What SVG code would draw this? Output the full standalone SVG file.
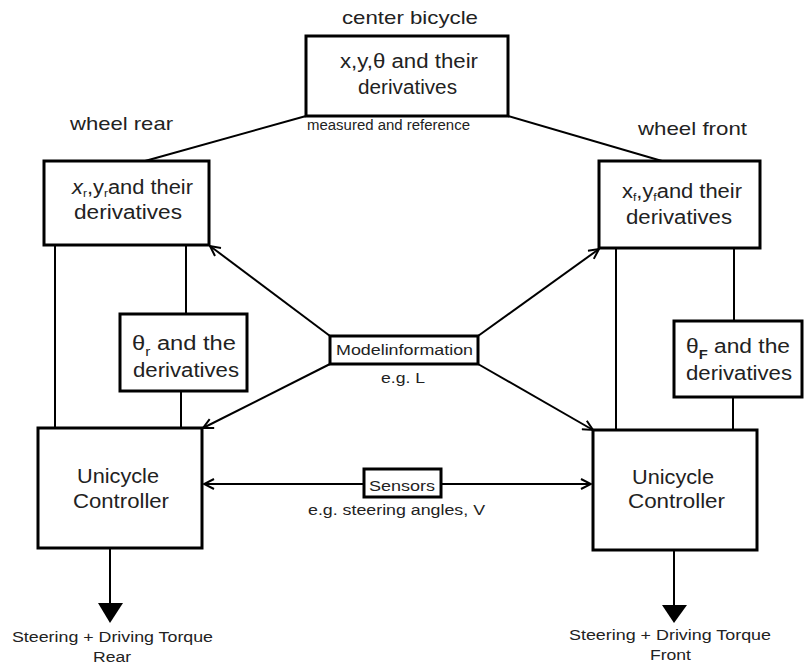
<svg xmlns="http://www.w3.org/2000/svg" width="804" height="666" viewBox="0 0 804 666">
<style>
.box{fill:#fff;stroke:#000;stroke-width:3}
.ln{fill:none;stroke:#000;stroke-width:2}
text{font-family:"Liberation Sans",Arial,sans-serif;fill:#222}
.n{font-size:20px}
.l{font-size:19px}
.s{font-size:14px}
.sub{font-size:13px}
.sb{font-size:11px}
</style>
<defs>
<marker id="oa" viewBox="0 0 12 12" refX="11" refY="6" markerWidth="12" markerHeight="12" markerUnits="userSpaceOnUse" orient="auto-start-reverse">
<path d="M1,1 L11,6 L1,11" fill="none" stroke="#000" stroke-width="2"/>
</marker>
</defs>
<rect width="804" height="666" fill="#fff"/>
<g id="connectors">
<line class="ln" x1="306" y1="116" x2="145" y2="161"/>
<line class="ln" x1="508" y1="116" x2="662" y2="161"/>
<line class="ln" x1="55" y1="245" x2="55" y2="428"/>
<line class="ln" x1="186" y1="245" x2="186" y2="314"/>
<line class="ln" x1="181" y1="391" x2="181" y2="428"/>
<line class="ln" x1="616" y1="248" x2="616" y2="430"/>
<line class="ln" x1="734" y1="248" x2="734" y2="321"/>
<line class="ln" x1="733" y1="397" x2="733" y2="430"/>
<line class="ln" x1="330" y1="336" x2="210" y2="246" marker-end="url(#oa)"/>
<line class="ln" x1="478" y1="336" x2="599" y2="249" marker-end="url(#oa)"/>
<line class="ln" x1="330" y1="364" x2="203" y2="428" marker-end="url(#oa)"/>
<line class="ln" x1="478" y1="364" x2="593" y2="430" marker-end="url(#oa)"/>
<line class="ln" x1="204" y1="484" x2="591" y2="484" marker-start="url(#oa)" marker-end="url(#oa)"/>
<line class="ln" x1="110" y1="548" x2="110" y2="606"/>
<polygon points="98,603 123,603 110,623" fill="#000"/>
<line class="ln" x1="674" y1="550" x2="674" y2="607"/>
<polygon points="662,605 687,605 674,623" fill="#000"/>
</g>
<g id="center">
<text class="l" x="342" y="24" textLength="136" lengthAdjust="spacingAndGlyphs">center bicycle</text>
<rect class="box" x="306" y="36" width="202" height="80"/>
<text class="n" x="340" y="68" textLength="138" lengthAdjust="spacingAndGlyphs">x,y,θ and their</text>
<text class="n" x="358" y="94" textLength="99" lengthAdjust="spacingAndGlyphs">derivatives</text>
<text class="s" x="307" y="130" textLength="163" lengthAdjust="spacingAndGlyphs">measured and reference</text>
</g>
<g id="rear">
<text class="l" x="70" y="130" textLength="103" lengthAdjust="spacingAndGlyphs">wheel rear</text>
<rect class="box" x="44" y="161" width="165" height="84"/>
<text class="n" x="72" y="194" textLength="121" lengthAdjust="spacingAndGlyphs"><tspan font-style="italic">x</tspan><tspan class="sb" dy="3">r</tspan><tspan dy="-3">,y</tspan><tspan class="sb" dy="3">r</tspan><tspan dy="-3">and their</tspan></text>
<text class="n" x="74" y="219" textLength="108" lengthAdjust="spacingAndGlyphs">derivatives</text>
</g>
<g id="front">
<text class="l" x="638" y="135" textLength="109" lengthAdjust="spacingAndGlyphs">wheel front</text>
<rect class="box" x="599" y="161" width="161" height="87"/>
<text class="n" x="622" y="198" textLength="120" lengthAdjust="spacingAndGlyphs">x<tspan class="sb" dy="3">f</tspan><tspan dy="-3">,y</tspan><tspan class="sb" dy="3">f</tspan><tspan dy="-3">and their</tspan></text>
<text class="n" x="626" y="224" textLength="106" lengthAdjust="spacingAndGlyphs">derivatives</text>
</g>
<g id="theta-rear">
<rect class="box" x="120" y="314" width="127" height="77"/>
<text class="n" x="132" y="350" textLength="104" lengthAdjust="spacingAndGlyphs">θ<tspan class="sub" dy="6">r</tspan><tspan dy="-6">  and the</tspan></text>
<text class="n" x="133" y="377" textLength="106" lengthAdjust="spacingAndGlyphs">derivatives</text>
</g>
<g id="theta-front">
<rect class="box" x="674" y="321" width="128" height="76"/>
<text class="n" x="686" y="353" textLength="104" lengthAdjust="spacingAndGlyphs">θ<tspan class="sub" font-weight="bold" dy="6">F</tspan><tspan dy="-6"> and the</tspan></text>
<text class="n" x="686" y="380" textLength="106" lengthAdjust="spacingAndGlyphs">derivatives</text>
</g>
<g id="model">
<rect class="box" x="330" y="336" width="148" height="28"/>
<text class="s" x="336" y="355" textLength="137" lengthAdjust="spacingAndGlyphs">Modelinformation</text>
<text class="s" x="381" y="383" textLength="44" lengthAdjust="spacingAndGlyphs">e.g. L</text>
</g>
<g id="sensors">
<rect class="box" x="364" y="469" width="77" height="28"/>
<text class="s" x="369" y="491" textLength="66" lengthAdjust="spacingAndGlyphs">Sensors</text>
<text class="s" x="308" y="515" textLength="177" lengthAdjust="spacingAndGlyphs">e.g. steering angles, V</text>
</g>
<g id="ctrl-rear">
<rect class="box" x="38" y="428" width="164" height="120"/>
<text class="n" x="77" y="483" textLength="82" lengthAdjust="spacingAndGlyphs">Unicycle</text>
<text class="n" x="73" y="508" textLength="96" lengthAdjust="spacingAndGlyphs">Controller</text>
<text class="s" x="12" y="642" textLength="201" lengthAdjust="spacingAndGlyphs">Steering + Driving Torque</text>
<text class="s" x="93" y="662" textLength="38" lengthAdjust="spacingAndGlyphs">Rear</text>
</g>
<g id="ctrl-front">
<rect class="box" x="593" y="430" width="164" height="120"/>
<text class="n" x="632" y="484" textLength="82" lengthAdjust="spacingAndGlyphs">Unicycle</text>
<text class="n" x="628" y="508" textLength="97" lengthAdjust="spacingAndGlyphs">Controller</text>
<text class="s" x="569" y="640" textLength="202" lengthAdjust="spacingAndGlyphs">Steering + Driving Torque</text>
<text class="s" x="650" y="660" textLength="41" lengthAdjust="spacingAndGlyphs">Front</text>
</g>
</svg>
